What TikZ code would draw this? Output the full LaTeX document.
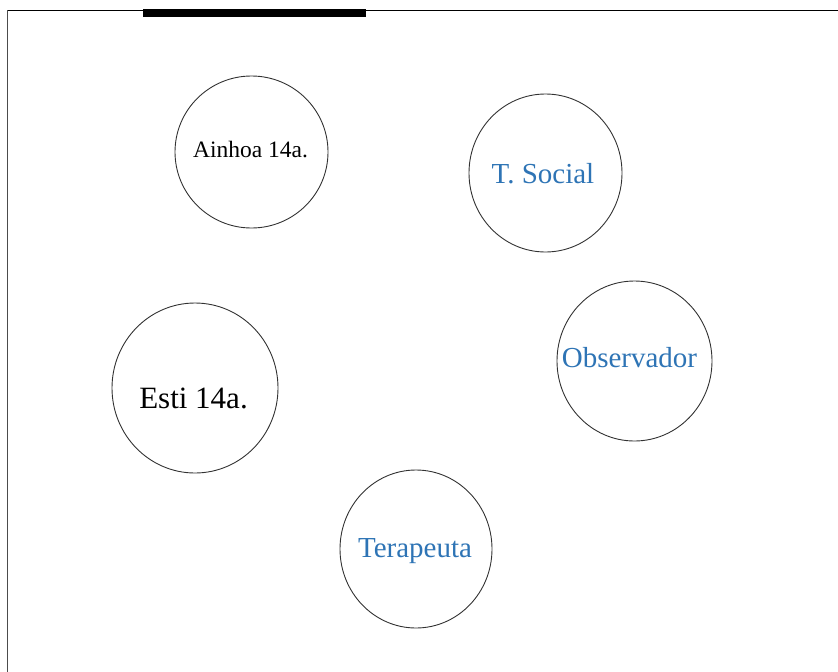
\documentclass[tikz,border=0pt]{standalone}
\usepackage{fontspec}
\setmainfont{Liberation Serif}
\usetikzlibrary{shapes.geometric}
\definecolor{wordblue}{RGB}{46,116,181}
\definecolor{ringgray}{RGB}{50,50,50}
\tikzset{
  ring/.style={draw=ringgray, line width=0.9pt, ellipse, inner sep=0pt},
  lbl/.style={anchor=base, inner sep=0pt},
}
\begin{document}
\begin{tikzpicture}[x=1pt,y=-1pt]
\useasboundingbox (0,0) rectangle (838,672);
% frame lines
\coordinate (tl) at (7.8,10.3);
\coordinate (tr) at (838,10.3);
\coordinate (bl) at (7.8,672);
\draw[line width=1pt] (tr) -- (tl);
\draw[line width=1.3pt, draw=black!70] (tl) -- (bl);
\fill[black] (143,9) rectangle (366,16.5);
% circles
\node[ring, minimum width=153pt, minimum height=152pt] (ainhoa) at (251.5,152) {};
\node[ring, minimum width=153pt, minimum height=158pt] (social) at (545.5,173) {};
\node[ring, minimum width=155pt, minimum height=160pt] (obs) at (634.5,361) {};
\node[ring, minimum width=166pt, minimum height=170pt] (esti) at (195,388) {};
\node[ring, minimum width=152pt, minimum height=158pt] (tera) at (416,549) {};
% labels
\node[lbl] (ainhoaT) at (250.5,157) {\fontsize{23.5}{28}\selectfont Ainhoa 14a.};
\node[lbl, text=wordblue] (socialT) at (543,183) {\fontsize{29}{34}\selectfont T. Social};
\node[lbl, text=wordblue] (obsT) at (629.5,367) {\fontsize{29}{34}\selectfont Observador};
\node[lbl] (estiT) at (193.5,408) {\fontsize{31}{36}\selectfont Esti 14a.};
\node[lbl, text=wordblue] (teraT) at (415,557) {\fontsize{29}{34}\selectfont Terapeuta};
\end{tikzpicture}
\end{document}
